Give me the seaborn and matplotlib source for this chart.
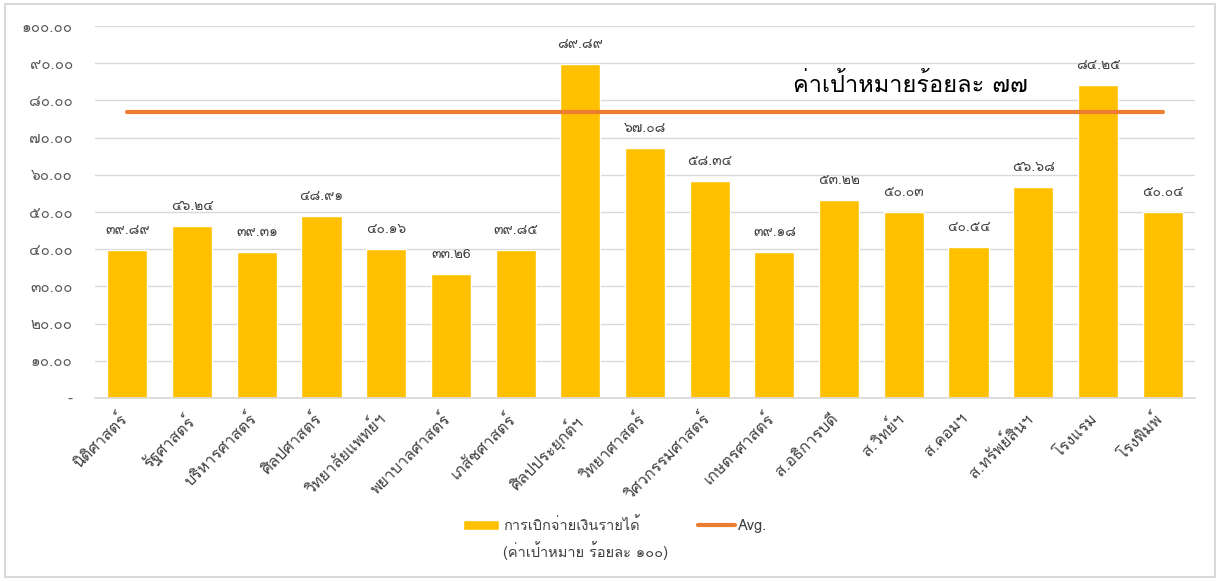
import matplotlib
matplotlib.use("Agg")
import matplotlib.pyplot as plt
import matplotlib.transforms as mtransforms
from matplotlib import font_manager
from matplotlib.ft2font import FT2Font
import seaborn as sns
import pandas as pd

# ------------------- DATA -------------------
faculties = ['นิติศาสตร์', 'รัฐศาสตร์', 'บริหารศาสตร์', 'ศิลปศาสตร์', 'วิทยาลัยแพทย์ฯ',
             'พยาบาลศาสตร์', 'เภสัชศาสตร์', 'ศิลปประยุกต์ฯ', 'วิทยาศาสตร์', 'วิศวกรรมศาสตร์',
             'เกษตรศาสตร์', 'ส.อธิการบดี', 'ส.วิทย์ฯ', 'ส.คอมฯ', 'ส.ทรัพย์สินฯ', 'โรงแรม', 'โรงพิมพ์']
values = [39.89, 46.24, 39.31, 48.91, 40.16, 33.26, 39.85, 89.89, 67.08,
          58.34, 39.18, 53.22, 50.03, 40.54, 56.68, 84.25, 50.04]
value_labels = ['๓๙.๘๙', '๔๖.๒๔', '๓๙.๓๑', '๔๘.๙๑', '๔๐.๑๖', '๓๓.๒6', '๓๙.๘๕', '๘๙.๘๙', '๖๗.๐๘',
                '๕๘.๓๔', '๓๙.๑๘', '๕๓.๒๒', '๕๐.๐๓', '๔๐.๕๔', '๕๖.๖๘', '๘๔.๒๕', '๕๐.๐๔']
avg_value = 77
y_ticks = [0, 10, 20, 30, 40, 50, 60, 70, 80, 90, 100]
y_tick_labels = ['-', '๑๐.๐๐', '๒๐.๐๐', '๓๐.๐๐', '๔๐.๐๐', '๕๐.๐๐',
                 '๖๐.๐๐', '๗๐.๐๐', '๘๐.๐๐', '๙๐.๐๐', '๑๐๐.๐๐']
bar_name = 'การเบิกจ่ายเงินรายได้'
bar_name_2 = '(ค่าเป้าหมาย ร้อยละ ๑๐๐)'
line_name = 'Avg.'
target_text = 'ค่าเป้าหมายร้อยละ ๗๗'

df = pd.DataFrame({'faculty': faculties, 'value': values})
df['avg'] = avg_value


# ------------------- FONT (needs Thai glyphs) -------------------
def find_thai_font():
    for f in font_manager.fontManager.ttflist:
        try:
            if 0x0E01 in FT2Font(f.fname).get_charmap():
                return f.name
        except Exception:
            pass
    return None


sns.set_theme(style='whitegrid')
thai = find_thai_font()
plt.rcParams['font.family'] = [thai, 'DejaVu Sans'] if thai else ['DejaVu Sans']

# ------------------- PLOT -------------------
fig, ax = plt.subplots(figsize=(12.23, 5.81), dpi=100)
fig.subplots_adjust(left=95 / 1223, right=1195 / 1223, top=1 - 26 / 581, bottom=1 - 398 / 581)

sns.barplot(data=df, x='faculty', y='value', color='#FFC000', saturation=1,
            width=0.62, ax=ax, label=bar_name, zorder=2)
ax.plot(range(len(faculties)), df['avg'], color='#ED7D31', linewidth=3,
        solid_capstyle='round', label=line_name, zorder=3)

for i, (v, lab) in enumerate(zip(values, value_labels)):
    ax.text(i, v + 3.5, lab, ha='center', va='bottom', fontsize=10, color='#404040')

ax.text(12.1, 84.1, target_text, ha='center', va='center', fontsize=17, color='black')

ax.set_ylim(0, 100)
ax.set_xlim(-0.5, len(faculties) - 0.5)
ax.set_yticks(y_ticks)
ax.set_yticklabels(y_tick_labels, fontsize=11, color='#595959')
ax.tick_params(axis='y', length=0, pad=16)
ax.tick_params(axis='x', length=0, pad=9)
shift = mtransforms.ScaledTranslation(-6 / 72, 0, fig.dpi_scale_trans)
for tl in ax.get_xticklabels():
    tl.set_rotation(45)
    tl.set_ha('right')
    tl.set_rotation_mode('anchor')
    tl.set_fontsize(11.5)
    tl.set_color('#404040')
    tl.set_transform(tl.get_transform() + shift)
ax.set_xlabel('')
ax.set_ylabel('')
ax.grid(axis='x', visible=False)
ax.grid(axis='y', color='#D9D9D9', linewidth=1)
for side in ['left', 'right', 'top']:
    ax.spines[side].set_visible(False)
ax.spines['bottom'].set_color('#D9D9D9')

# legend: bar first, then Avg. ; second line of the bar name written under it
handles, labels = ax.get_legend_handles_labels()
order = [labels.index(bar_name), labels.index(line_name)]
ax.legend([handles[k] for k in order], [labels[k] for k in order],
          loc='center left', bbox_to_anchor=(463 / 1223, 1 - 525 / 581),
          bbox_transform=fig.transFigure, borderaxespad=0, borderpad=0,
          ncol=2, frameon=False, fontsize=10.5, handlelength=2.5, handletextpad=0.25,
          columnspacing=4.0, labelcolor='#404040')
fig.text(503 / 1223, 1 - 551 / 581, bar_name_2, ha='left', va='center',
         fontsize=10.5, color='#404040')

fig.add_artist(plt.Rectangle((5 / 1223, 4 / 581), 1210 / 1223, 573 / 581,
                             transform=fig.transFigure, fill=False,
                             edgecolor='#D9D9D9', linewidth=1.5))

plt.savefig('out.png', dpi=100)
